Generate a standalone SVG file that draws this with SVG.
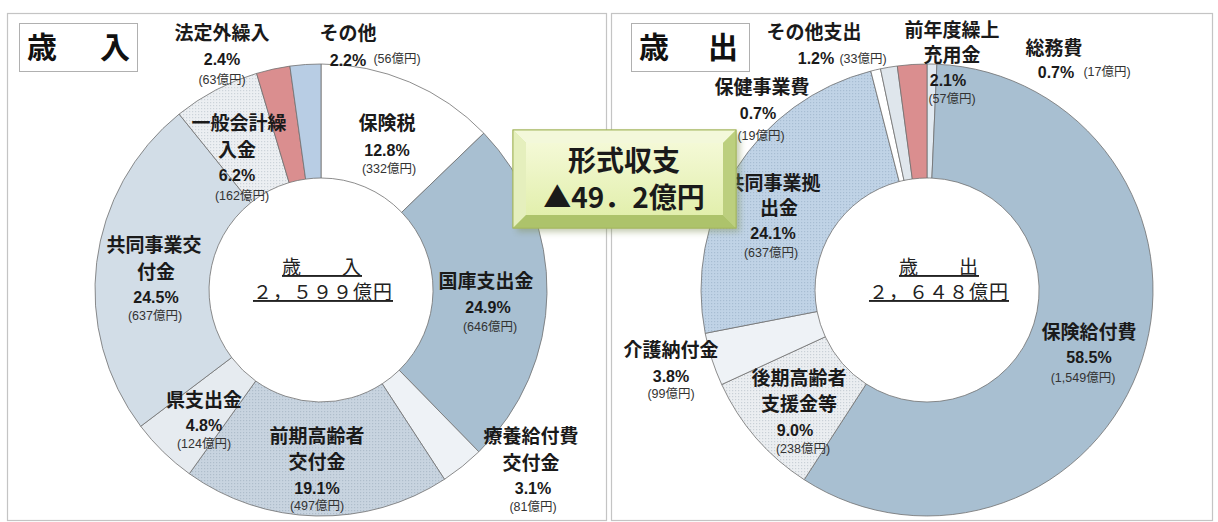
<svg xmlns="http://www.w3.org/2000/svg" width="1218" height="522" viewBox="0 0 1218 522">
<style>
.frame{fill:#ffffff;stroke:#c4c4c4;stroke-width:1.2}
.tbox{fill:#ffffff;stroke:#b0b0b0;stroke-width:1}
.seg{stroke:#707070;stroke-width:0.8}
.lbl{font-family:"Noto Sans CJK JP",sans-serif;font-weight:bold;font-size:19px;fill:#1a1a1a;text-anchor:middle}
.pct{font-family:"Liberation Sans","Noto Sans CJK JP",sans-serif;font-weight:bold;font-size:16px;fill:#1a1a1a;text-anchor:middle}
.amt{font-family:"Liberation Sans","Noto Sans CJK JP",sans-serif;font-size:12.5px;fill:#333333;text-anchor:middle}
.ctr{font-family:"Noto Sans CJK JP",sans-serif;font-size:19px;letter-spacing:1px;fill:#222222;text-anchor:middle;text-decoration:underline}
.ttl{font-family:"Noto Sans CJK JP",sans-serif;font-weight:bold;font-size:30px;fill:#111111}
.bx{font-family:"Noto Sans CJK JP",sans-serif;font-weight:bold;font-size:28px;fill:#1a1a1a;text-anchor:middle}
</style>
<defs>
<pattern id="dotA" width="3" height="3" patternUnits="userSpaceOnUse"><rect width="3" height="3" fill="#c8d4e0"/><rect width="1.2" height="1.2" fill="#aebdcb"/></pattern>
<pattern id="dotB" width="3" height="3" patternUnits="userSpaceOnUse"><rect width="3" height="3" fill="#eceff2"/><rect width="1.2" height="1.2" fill="#ccd3d9"/></pattern>
<pattern id="dotC" width="3" height="3" patternUnits="userSpaceOnUse"><rect width="3" height="3" fill="#c0d3e6"/><rect width="1.2" height="1.2" fill="#a7bdd2"/></pattern>
<pattern id="dotD" width="3" height="3" patternUnits="userSpaceOnUse"><rect width="3" height="3" fill="#ebeef1"/><rect width="1.2" height="1.2" fill="#c9d0d7"/></pattern>
<linearGradient id="face" x1="0" y1="0" x2="0" y2="1"><stop offset="0" stop-color="#f4f9d6"/><stop offset="1" stop-color="#e2efad"/></linearGradient>
<filter id="sh" x="-10%" y="-10%" width="120%" height="130%"><feGaussianBlur stdDeviation="3"/></filter>
</defs>

<g id="panels">
<rect class="frame" x="7.5" y="13.5" width="599" height="507"/>
<rect class="frame" x="611.5" y="13.5" width="601" height="507"/>
</g>

<g id="connectors"/>

<g id="title-revenue">
<rect class="tbox" x="19.5" y="23.5" width="118" height="48"/>
<text class="ttl" x="27" y="58" letter-spacing="6.5">歳　入</text>
</g>
<g id="title-expenditure">
<rect class="tbox" x="631.5" y="23.5" width="118" height="48"/>
<text class="ttl" x="639" y="58" letter-spacing="4.5">歳　出</text>
</g>

<g id="revenue-donut">
<g id="rev-hokenzei"><path class="seg" fill="#ffffff" d="M321,64 A226,226 0 0 1 483.8,133.2 L401.7,212.3 A112,112 0 0 0 321,178 Z"/></g>
<g id="rev-kokko"><path class="seg" fill="#a8bfd1" d="M483.8,133.2 A226,226 0 0 1 478.8,451.8 L399.2,370.2 A112,112 0 0 0 401.7,212.3 Z"/></g>
<g id="rev-ryoyo"><path class="seg" fill="#eef2f6" d="M478.8,451.8 A226,226 0 0 1 444.5,479.3 L382.2,383.8 A112,112 0 0 0 399.2,370.2 Z"/></g>
<g id="rev-zenki"><path class="seg" fill="url(#dotA)" d="M444.5,479.3 A226,226 0 0 1 189.3,473.7 L255.7,381.0 A112,112 0 0 0 382.2,383.8 Z"/></g>
<g id="rev-ken"><path class="seg" fill="#e6ebf0" d="M189.3,473.7 A226,226 0 0 1 140.7,426.3 L231.7,357.5 A112,112 0 0 0 255.7,381.0 Z"/></g>
<g id="rev-kyodo"><path class="seg" fill="#d2dde7" d="M140.7,426.3 A226,226 0 0 1 179.1,114.1 L250.7,202.8 A112,112 0 0 0 231.7,357.5 Z"/></g>
<g id="rev-ippan"><path class="seg" fill="url(#dotB)" d="M179.1,114.1 A226,226 0 0 1 256.6,73.4 L289.1,182.6 A112,112 0 0 0 250.7,202.8 Z"/></g>
<g id="rev-hoteigai"><path class="seg" fill="#da8e8f" d="M256.6,73.4 A226,226 0 0 1 289.9,66.1 L305.6,179.1 A112,112 0 0 0 289.1,182.6 Z"/></g>
<g id="rev-sonota"><path class="seg" fill="#b8cde4" d="M289.9,66.1 A226,226 0 0 1 321,64 L321,178 A112,112 0 0 0 305.6,179.1 Z"/></g>
</g>

<g id="expenditure-donut">
<g id="exp-somu"><path class="seg" fill="#e2eaf1" d="M927,64 A226,226 0 0 1 936.9,64.2 L931.9,178.1 A112,112 0 0 0 927,178 Z"/></g>
<g id="exp-hokenkyufu"><path class="seg" fill="#a8bfd1" d="M936.9,64.2 A226,226 0 1 1 804.2,479.7 L866.2,384.0 A112,112 0 1 0 931.9,178.1 Z"/></g>
<g id="exp-koki"><path class="seg" fill="url(#dotD)" d="M804.2,479.7 A226,226 0 0 1 721.7,384.5 L825.3,336.8 A112,112 0 0 0 866.2,384.0 Z"/></g>
<g id="exp-kaigo"><path class="seg" fill="#eef2f6" d="M721.7,384.5 A226,226 0 0 1 705.2,333.3 L817.1,311.5 A112,112 0 0 0 825.3,336.8 Z"/></g>
<g id="exp-kyodo"><path class="seg" fill="url(#dotC)" d="M705.2,333.3 A226,226 0 0 1 870.8,71.1 L899.2,181.5 A112,112 0 0 0 817.1,311.5 Z"/></g>
<g id="exp-hoken"><path class="seg" fill="#ffffff" d="M870.8,71.1 A226,226 0 0 1 880.5,68.8 L904.0,180.4 A112,112 0 0 0 899.2,181.5 Z"/></g>
<g id="exp-sonota"><path class="seg" fill="#dfe6ec" d="M880.5,68.8 A226,226 0 0 1 897.3,66.0 L912.3,179.0 A112,112 0 0 0 904.0,180.4 Z"/></g>
<g id="exp-zennendo"><path class="seg" fill="#da8e8f" d="M897.3,66.0 A226,226 0 0 1 927,64 L927,178 A112,112 0 0 0 912.3,179.0 Z"/></g>
</g>

<g id="revenue-labels">
<g id="lbl-hoteigai"><text class="lbl" x="222" y="40">法定外繰入</text><text class="pct" x="222" y="65">2.4%</text><text class="amt" x="222" y="83.5">(63億円)</text></g>
<g id="lbl-sonota"><text class="lbl" x="348" y="40">その他</text><text class="pct" x="348" y="66">2.2%</text><text class="amt" x="397" y="62.5">(56億円)</text></g>
<g id="lbl-hokenzei"><text class="lbl" x="387" y="130">保険税</text><text class="pct" x="387" y="156">12.8%</text><text class="amt" x="389" y="172.5">(332億円)</text></g>
<g id="lbl-ippan"><text class="lbl" x="239" y="130">一般会計繰</text><text class="lbl" x="237" y="157">入金</text><text class="pct" x="237" y="181">6.2%</text><text class="amt" x="242" y="199.5">(162億円)</text></g>
<g id="lbl-kyodo"><text class="lbl" x="154" y="252">共同事業交</text><text class="lbl" x="156" y="279">付金</text><text class="pct" x="156" y="303">24.5%</text><text class="amt" x="155" y="319.5">(637億円)</text></g>
<g id="lbl-kokko"><text class="lbl" x="486" y="288">国庫支出金</text><text class="pct" x="488" y="313">24.9%</text><text class="amt" x="490" y="330.5">(646億円)</text></g>
<g id="lbl-ken"><text class="lbl" x="204" y="407">県支出金</text><text class="pct" x="204" y="431">4.8%</text><text class="amt" x="204" y="447.5">(124億円)</text></g>
<g id="lbl-zenki"><text class="lbl" x="317" y="443">前期高齢者</text><text class="lbl" x="317" y="469">交付金</text><text class="pct" x="317" y="494">19.1%</text><text class="amt" x="317" y="509.5">(497億円)</text></g>
<g id="lbl-ryoyo"><text class="lbl" x="531" y="443">療養給付費</text><text class="lbl" x="531" y="470">交付金</text><text class="pct" x="533" y="494">3.1%</text><text class="amt" x="533" y="510.5">(81億円)</text></g>
<g id="ctr-revenue"><text class="ctr" x="322" y="274">歳　　入</text><text class="ctr" x="323" y="299">２，５９９億円</text></g>
</g>

<g id="expenditure-labels">
<g id="lbl-e-sonota"><text class="lbl" x="814" y="39">その他支出</text><text class="pct" x="816" y="64">1.2%</text><text class="amt" x="863" y="62.5">(33億円)</text></g>
<g id="lbl-e-zennendo"><text class="lbl" x="952" y="37" font-size="18">前年度繰上</text><text class="lbl" x="952" y="62" font-size="18">充用金</text><text class="pct" x="948" y="86">2.1%</text><text class="amt" x="952" y="103">(57億円)</text></g>
<g id="lbl-e-somu"><text class="lbl" x="1054" y="55">総務費</text><text class="pct" x="1056" y="78">0.7%</text><text class="amt" x="1107" y="75.5">(17億円)</text></g>
<g id="lbl-e-hoken"><text class="lbl" x="762" y="94">保健事業費</text><text class="pct" x="758" y="119">0.7%</text><text class="amt" x="761" y="139.5">(19億円)</text></g>
<g id="lbl-e-kyodo"><text class="lbl" x="773" y="190">共同事業拠</text><text class="lbl" x="779" y="215">出金</text><text class="pct" x="773" y="239">24.1%</text><text class="amt" x="771" y="256.5">(637億円)</text></g>
<g id="lbl-e-kaigo"><text class="lbl" x="671" y="357">介護納付金</text><text class="pct" x="671" y="382">3.8%</text><text class="amt" x="671" y="397.5">(99億円)</text></g>
<g id="lbl-e-koki"><text class="lbl" x="799" y="385">後期高齢者</text><text class="lbl" x="799" y="411">支援金等</text><text class="pct" x="795" y="436">9.0%</text><text class="amt" x="803" y="452.5">(238億円)</text></g>
<g id="lbl-e-hokenkyufu"><text class="lbl" x="1089" y="339">保険給付費</text><text class="pct" x="1089" y="363">58.5%</text><text class="amt" x="1083" y="381.5">(1,549億円)</text></g>
<g id="ctr-expenditure"><text class="ctr" x="939" y="274">歳　　出</text><text class="ctr" x="939" y="299">２，６４８億円</text></g>
</g>

<g id="balance-box">
<rect x="517" y="134" width="223" height="98" fill="#7f8f55" opacity="0.45" filter="url(#sh)"/>
<rect x="513" y="130" width="223" height="98" fill="#d3e49a" stroke="#a6b860" stroke-width="1"/>
<polygon points="513,130 736,130 723,143 526,143" fill="#f3f8da"/>
<polygon points="513,130 526,143 526,215 513,228" fill="#e5efbd"/>
<polygon points="736,130 736,228 723,215 723,143" fill="#bccf7e"/>
<polygon points="513,228 736,228 723,215 526,215" fill="#adc36b"/>
<rect x="526" y="143" width="197" height="72" fill="url(#face)"/>
<rect x="513" y="130" width="223" height="98" fill="none" stroke="#a6b860" stroke-width="1"/>
<text class="bx" x="624" y="171">形式収支</text>
<text class="bx" x="624" y="208">▲49．2億円</text>
</g>
</svg>
